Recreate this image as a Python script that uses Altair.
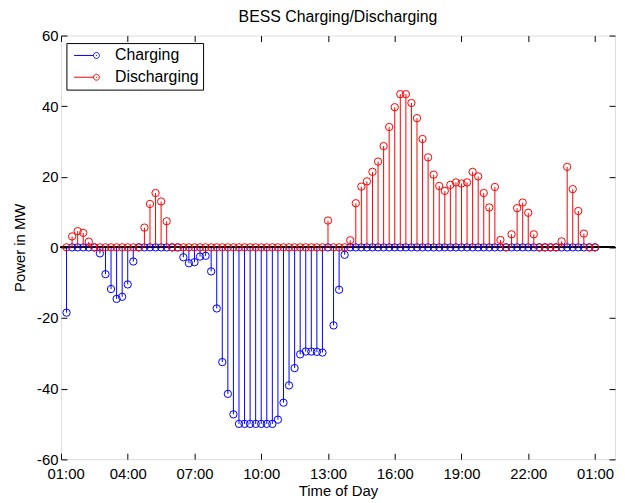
import altair as alt
import pandas as pd

# 15-minute samples from 01:15 to 01:00 (next day), hours since midnight
n_steps = 96
times = [1.25 + 0.25 * k for k in range(n_steps)]

charging = [-18.5, 0, 0, 0, 0, 0,
            -1.7, -7.6, -11.8, -14.6, -14.0, -10.5, -4.0,
            0, 0, 0, 0, 0, 0, 0, 0,
            -2.8, -4.5, -4.2, -2.6, -2.4, -6.8, -17.3, -32.5, -41.5, -47.3,
            -50, -50, -50, -50, -50, -50, -50,
            -48.8, -44.0, -39.1, -34.2, -30.3, -29.5, -29.5, -29.6, -29.8,
            0,
            -22.1, -12.0, -2.1] + [0] * 45

discharging = ([0, 3.1, 4.6, 4.1, 1.6] + [0] * 9 +
               [5.6, 12.3, 15.4, 13.0, 7.4] + [0] * 28 +
               [7.6, 0, 0, 0,
                2.0, 12.5, 17.2, 18.7, 21.4, 24.3, 28.7, 34.1, 39.7, 43.4,
                43.4, 40.9, 36.6, 30.7, 25.5, 20.6, 17.4, 16.0, 17.7, 18.4,
                18.1, 18.4, 21.4, 20.1, 15.4, 11.3, 17.1, 2.1,
                0, 3.7, 11.1, 12.7, 9.8, 3.7, 0, 0, 0, 0,
                1.7, 22.8, 16.5, 10.3, 3.9, 0, 0])

series_names = ["Charging", "Discharging"]
series_colors = ["#0000ff", "#ff0000"]
x_ticks = [1, 4, 7, 10, 13, 16, 19, 22, 25]
y_ticks = [-60, -40, -20, 0, 20, 40, 60]

df = pd.DataFrame({
    "t": times * 2,
    "value": charging + discharging,
    "series": ["Charging"] * n_steps + ["Discharging"] * n_steps,
})

FONT = "Liberation Sans"
xscale = alt.Scale(domain=[1, 25.9], nice=False, zero=False)
yscale = alt.Scale(domain=[-60, 60], nice=False, zero=False)
cscale = alt.Scale(domain=series_names, range=series_colors)

x_label_expr = "(datum.value % 24 < 10 ? '0' : '') + toString(datum.value % 24) + ':00'"

x_main = alt.X("t:Q", scale=xscale, axis=alt.Axis(
    orient="bottom", values=x_ticks, labelExpr=x_label_expr, offset=-6, tickSize=6,
    domain=False, grid=False, labelFont=FONT, labelFontSize=15, labelColor="black",
    labelPadding=8, labelFlush=1, labelFlushOffset=14, tickColor="black",
    title="Time of Day", titleFont=FONT,
    titleFontSize=15, titleFontWeight="normal", titleColor="black", titlePadding=2))
y_main = alt.Y("value:Q", scale=yscale, axis=alt.Axis(
    orient="left", values=y_ticks, labelExpr="'' + datum.value", offset=-6, tickSize=6,
    domain=False, grid=False, labelFont=FONT, labelFontSize=15, labelColor="black",
    labelPadding=3, labelFlush=False, tickColor="black", title="Power in MW", titleFont=FONT,
    titleFontSize=15, titleFontWeight="normal", titleColor="black", titlePadding=9))
x_top = alt.X("t:Q", scale=xscale, axis=alt.Axis(
    orient="top", values=x_ticks, labels=False, offset=-6, tickSize=6, domain=False,
    grid=False, tickColor="black", title=None))
y_right = alt.Y("value:Q", scale=yscale, axis=alt.Axis(
    orient="right", values=y_ticks, labels=False, offset=-6, tickSize=6, domain=False,
    grid=False, tickColor="black", title=None))
x_plain = alt.X("t:Q", scale=xscale, axis=None)
y_plain = alt.Y("value:Q", scale=yscale, axis=None)

legend_path = ("M-0.6,0L1.85,0"
               "M2.6,0A0.375,0.375,0,1,1,1.85,0A0.375,0.375,0,1,1,2.6,0"
               "M2.225,-0.06L2.225,0.06")

legend = alt.Legend(
    title=None, orient="none", legendX=5.5, legendY=7.6, fillColor="white",
    strokeColor="black", padding=4, cornerRadius=0, symbolType=legend_path,
    symbolSize=256, symbolStrokeWidth=1, symbolFillColor="transparent",
    labelFont=FONT, labelFontSize=16, labelColor="black", labelOffset=28,
    rowPadding=5, symbolOpacity=1)

color_enc = alt.Color("series:N", scale=cscale, legend=legend)

base = alt.Chart(df)

baseline = alt.Chart(df).mark_rule(color="black", strokeWidth=1).encode(
    y=alt.Y(datum=0, type="quantitative", scale=yscale, axis=None))

rules_c = base.transform_filter(alt.datum.series == "Charging").mark_rule(strokeWidth=1).encode(
    x=x_main, y=y_main, y2=alt.datum(0), color=color_enc)

points_c = base.transform_filter(alt.datum.series == "Charging").mark_point(
    shape="circle", filled=False, size=55, strokeWidth=1, opacity=1).encode(
    x=x_plain, y=y_plain, color=color_enc)

rules_d = base.transform_filter(alt.datum.series == "Discharging").mark_rule(strokeWidth=1).encode(
    x=x_plain, y=y_plain, y2=alt.datum(0), color=color_enc)

points_d = base.transform_filter(alt.datum.series == "Discharging").mark_point(
    shape="circle", filled=False, size=55, strokeWidth=1, opacity=1).encode(
    x=x_top, y=y_right, color=color_enc)

chart = alt.layer(baseline, rules_c, points_c, rules_d, points_d).resolve_axis(
    x="independent", y="independent"
).properties(
    width=559.5, height=427.8,
    title=alt.TitleParams("BESS Charging/Discharging", font=FONT, fontSize=16,
                          fontWeight="normal", color="black", offset=4, anchor="middle"),
    autosize=alt.AutoSizeParams(type="none"),
    padding={"left": 53.5, "top": 25.4, "right": 2, "bottom": 41},
).configure_view(stroke="black", strokeWidth=1).configure(background="white")

chart.save("out.html", embed_options={"renderer": "svg", "actions": False})
